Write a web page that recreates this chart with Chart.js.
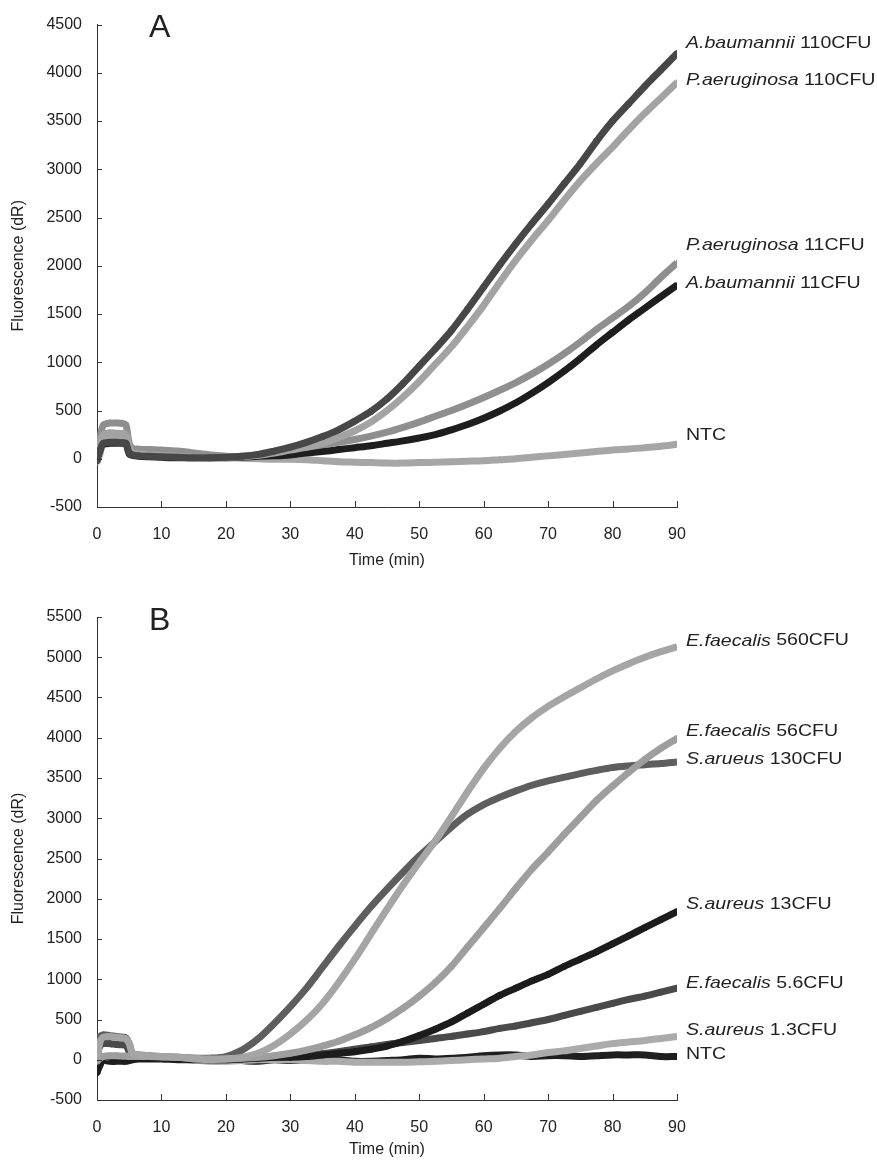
<!DOCTYPE html>
<html>
<head>
<meta charset="utf-8">
<script src="https://cdn.jsdelivr.net/npm/chart.js@4.4.1/dist/chart.umd.min.js"></script>
<style>
  body { margin: 0; background: #fff; }
  .panel { position: absolute; left: 0; }
</style>
</head>
<body>
<div class="panel" style="top:0"><canvas id="chartA" width="877" height="574"></canvas></div>
<div class="panel" style="top:590px"><canvas id="chartB" width="877" height="573"></canvas></div>
<script>
const FONT = '"Liberation Sans", Arial, sans-serif'

// sampling times (min)
const minutes = [0, 0.5, 1, 2, 3, 4, 4.5, 5, 5.5, 6.5, 8,
  10, 12.5, 15, 17.5, 20, 22.5, 25, 27.5,
  30, 32.5, 35, 37.5, 40, 42.5, 45, 47.5, 50, 52.5, 55, 57.5, 60, 62.5,
  65, 67.5, 70, 72.5, 75, 77.5, 80, 82.5, 85, 87.5, 90]

// panel A
const namesA = ['A.baumannii 110CFU', 'P.aeruginosa 110CFU', 'P.aeruginosa 11CFU', 'A.baumannii 11CFU', 'NTC']
const aBau110 = [-20, 90, 160, 170, 170, 165, 160, 60, 40, 30, 25,
  20, 15, 10, 10, 15, 25, 45, 80,
  120, 170, 230, 300, 390, 490, 620, 780, 960, 1140, 1330, 1550, 1780, 2010,
  2230, 2440, 2640, 2850, 3060, 3290, 3500, 3680, 3860, 4030, 4200]
const pAer110 = [40, 180, 250, 270, 265, 260, 250, 120, 60, 50, 40,
  35, 25, 15, 10, 15, 20, 35, 60,
  90, 120, 160, 220, 290, 380, 500, 640, 800, 980, 1160, 1370, 1590, 1830,
  2060, 2270, 2470, 2680, 2880, 3060, 3230, 3410, 3580, 3740, 3900]
const pAer11 = [10, 230, 350, 370, 370, 365, 350, 160, 110, 100, 95,
  90, 80, 60, 40, 25, 25, 40, 70,
  95, 120, 145, 170, 200, 235, 275, 325, 380, 440, 500, 565, 635, 710,
  790, 880, 980, 1090, 1210, 1340, 1460, 1580, 1720, 1880, 2030]
const aBau11 = [30, 110, 150, 160, 160, 160, 155, 50, 35, 25, 20,
  15, 10, 10, 10, 10, 15, 25, 30,
  40, 60, 75, 95, 115, 135, 160, 185, 215, 250, 300, 355, 420, 495,
  580, 680, 790, 910, 1040, 1180, 1310, 1440, 1560, 1680, 1800]
const ntcA = [-40, 60, 190, 210, 210, 205, 195, 90, 60, 50, 40,
  30, 20, 10, 10, 10, 5, 0, -5,
  -5, -10, -20, -30, -35, -40, -45, -45, -40, -35, -30, -25, -20, -10,
  0, 15, 30, 45, 60, 75, 90, 100, 115, 130, 150]

// panel B
const namesB = ['E.faecalis 560CFU', 'E.faecalis 56CFU', 'S.arueus 130CFU', 'S.aureus 13CFU',
  'E.faecalis 5.6CFU', 'S.aureus 1.3CFU', 'NTC']
const eFae560 = [0, 230, 280, 290, 280, 270, 260, 200, 80, 60, 50,
  40, 30, 10, 0, 10, 30, 80, 180,
  320, 490, 700, 960, 1250, 1560, 1870, 2170, 2450, 2720, 3020, 3330, 3620, 3870,
  4080, 4250, 4390, 4510, 4620, 4730, 4830, 4920, 5000, 5070, 5130]
const eFae56 = [-20, 20, 40, 50, 50, 45, 45, 40, 40, 40, 40,
  35, 30, 20, 10, 10, 20, 30, 50,
  80, 120, 170, 230, 310, 400, 510, 640, 790, 960, 1160, 1400, 1640, 1880,
  2130, 2370, 2580, 2800, 3010, 3220, 3400, 3570, 3730, 3870, 3990]
const sAru130 = [200, 290, 310, 300, 290, 280, 270, 200, 80, 60, 50,
  40, 30, 20, 20, 40, 120, 260, 450,
  660, 890, 1150, 1410, 1660, 1900, 2120, 2330, 2530, 2710, 2890, 3050, 3170, 3260,
  3340, 3410, 3465, 3510, 3555, 3595, 3630, 3650, 3665, 3680, 3700]
const sAur13 = [-160, -60, 20, 40, 30, 20, 20, 20, 20, 20, 20,
  20, 10, 0, 0, 0, 10, 20, 30,
  30, 40, 60, 80, 100, 130, 170, 230, 300, 380, 470, 580, 690, 800,
  890, 980, 1060, 1160, 1250, 1340, 1440, 1540, 1640, 1740, 1840]
const eFae5p6 = [40, 180, 200, 200, 190, 185, 180, 100, 50, 40, 30,
  30, 20, 10, 0, 0, 10, 20, 30,
  40, 55, 75, 100, 130, 160, 190, 215, 240, 265, 290, 320, 350, 390,
  420, 460, 500, 550, 600, 650, 700, 750, 790, 840, 890]
const sAur1p3 = [-40, -10, 20, 40, 40, 40, 40, 40, 40, 40, 40,
  30, 20, 0, -20, -20, -10, 0, 0,
  0, -10, -20, -20, -30, -30, -30, -30, -25, -20, -10, 0, 10, 20,
  40, 60, 90, 110, 140, 170, 200, 220, 240, 265, 290]
const ntcB = [100, 30, 0, -20, -20, -20, -20, -10, 0, 10, 10,
  10, 0, 0, 10, 0, -10, -20, 0,
  -10, 0, 10, 0, -20, -20, -10, 0, 20, 10, 20, 30, 50, 60,
  60, 40, 50, 50, 40, 50, 60, 60, 60, 40, 40]

const pts = vals => vals.map((v, i) => ({ x: minutes[i], y: v }))

function series(label, vals, color, style, rot) {
  return {
    label, data: pts(vals),
    borderColor: color, backgroundColor: color,
    borderWidth: 7, pointRadius: 3, pointBorderWidth: 1,
    pointStyle: style, rotation: rot || 0, tension: 0.3
  }
}

// inward ticks, panel letter and end-of-curve labels
const decor = {
  id: 'decor',
  afterDraw(chart, args, opts) {
    const { ctx, chartArea: a, scales: { x, y } } = chart
    ctx.save()
    ctx.strokeStyle = '#333'
    ctx.lineWidth = 1
    ctx.beginPath()
    y.ticks.forEach(t => {
      const py = Math.round(y.getPixelForValue(t.value)) + 0.5
      ctx.moveTo(a.left, py); ctx.lineTo(a.left + 5, py)
    })
    x.ticks.forEach(t => {
      const px = Math.round(x.getPixelForValue(t.value)) + 0.5
      ctx.moveTo(px, a.bottom); ctx.lineTo(px, a.bottom - 6)
    })
    ctx.stroke()

    ctx.fillStyle = '#222'
    ctx.textBaseline = 'middle'
    ctx.font = '32px ' + FONT
    ctx.fillText(opts.letter, a.left + 52, a.top + 4)

    chart.data.datasets.forEach((ds, i) => {
      const last = ds.data[ds.data.length - 1]
      const py = y.getPixelForValue(last.y) + opts.shift[i]
      const cut = ds.label.indexOf(' ')
      ctx.save()
      ctx.translate(a.right + 9, py)
      ctx.scale(1.15, 1)
      if (cut > 0) {
        const sp = ds.label.slice(0, cut)
        ctx.font = 'italic 17px ' + FONT
        ctx.fillText(sp, 0, 0)
        let w = ctx.measureText(sp).width
        ctx.font = '17px ' + FONT
        w += ctx.measureText(' ').width
        ctx.fillText(ds.label.slice(cut + 1), w, 0)
      } else {
        ctx.font = '17px ' + FONT
        ctx.fillText(ds.label, 0, 0)
      }
      ctx.restore()
    })
    ctx.restore()
  }
}

function makeChart(id, datasets, yMax, xHeight, top, letter, shift) {
  return new Chart(document.getElementById(id), {
    type: 'line',
    data: { datasets },
    plugins: [decor],
    options: {
      responsive: false,
      animation: false,
      layout: { padding: { top, right: 200, left: 0, bottom: 0 } },
      plugins: {
        legend: { display: false },
        tooltip: { enabled: false },
        decor: { letter, shift }
      },
      scales: {
        x: {
          type: 'linear', min: 0, max: 90,
          afterFit: s => { s.height = xHeight },
          border: { color: '#333', width: 1 },
          grid: { drawOnChartArea: false, drawTicks: false },
          ticks: { stepSize: 10, padding: 18, color: '#222', font: { family: FONT, size: 16 } },
          title: { display: true, text: 'Time (min)', color: '#222', padding: { top: 4, bottom: 4 },
            font: { family: FONT, size: 16 } }
        },
        y: {
          min: -500, max: yMax,
          afterFit: s => { s.width = 97 },
          border: { color: '#333', width: 1 },
          grid: { drawOnChartArea: false, drawTicks: false },
          ticks: { stepSize: 500, padding: 15, color: '#222', font: { family: FONT, size: 16 },
            callback: v => String(v) },
          title: { display: true, text: 'Fluorescence (dR)', color: '#222', padding: { top: 9, bottom: 0 },
            font: { family: FONT, size: 16 } }
        }
      }
    }
  })
}

makeChart('chartA', [
  series(namesA[0], aBau110, '#474747', 'circle'),
  series(namesA[1], pAer110, '#a3a3a3', 'rectRot'),
  series(namesA[2], pAer11, '#8f8f8f', 'triangle'),
  series(namesA[3], aBau11, '#1e1e1e', 'rect'),
  series(namesA[4], ntcA, '#a6a6a6', 'triangle')
], 4500, 67, 24, 'A', [-10, -2, -18, -2, -9])

makeChart('chartB', [
  series(namesB[0], eFae560, '#a5a5a5', 'triangle', 180),
  series(namesB[1], eFae56, '#9e9e9e', 'circle'),
  series(namesB[2], sAru130, '#5e5e5e', 'star'),
  series(namesB[3], sAur13, '#1c1c1c', 'circle'),
  series(namesB[4], eFae5p6, '#4a4a4a', 'circle'),
  series(namesB[5], sAur1p3, '#ababab', 'cross'),
  series(namesB[6], ntcB, '#1f1f1f', 'rect')
], 5500, 63, 27, 'B', [-6, -7, -3, -7, -5, -6, -2])
</script>
</body>
</html>
